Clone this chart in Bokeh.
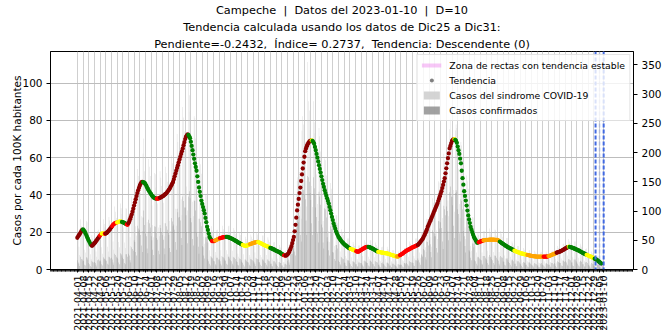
import numpy as np
import pandas as pd
from bokeh.plotting import figure
from bokeh.models import (Range1d, LinearAxis, FixedTicker, DatetimeTickFormatter,
                          ColumnDataSource, Span, Title, Legend, LegendItem)
from bokeh.embed import file_html
from bokeh.resources import INLINE

# ---------------- data ----------------
first_day = "2021-04-01"

# trend (cases per 100K), one value per day from 2021-04-01
trend = [
    17.0, 17.8, 18.5, 19.0, 19.8, 20.6, 21.2,
    21.5, 21.0, 20.3, 19.5, 18.5, 17.5, 16.5,
    15.5, 14.7, 13.8, 13.1, 12.7, 13.0, 13.6,
    14.1, 14.5, 15.2, 15.8, 16.4, 17.0, 17.6,
    18.2, 18.8, 19.3, 19.4, 19.3, 19.2, 19.2,
    19.3, 19.5, 20.0, 20.5, 21.0, 21.5, 22.1,
    22.7, 23.3, 24.0, 24.4, 24.7, 24.9, 25.1,
    25.2, 25.4, 25.6, 25.7, 25.8, 25.7, 25.5,
    25.4, 25.2, 25.0, 24.7, 24.4, 24.2, 24.0,
    24.8, 25.8, 27.0, 28.2, 29.5, 31.0, 32.6,
    34.3, 36.0, 37.7, 39.4, 41.0, 42.5, 43.8,
    45.0, 46.0, 46.7, 47.0, 46.9, 46.7, 46.5,
    45.8, 45.0, 44.0, 43.2, 42.4, 41.7, 41.0,
    40.4, 39.7, 39.2, 38.7, 38.4, 38.2, 38.0,
    38.0, 38.0, 38.1, 38.3, 38.5, 38.7, 39.0,
    39.2, 39.5, 39.9, 40.3, 40.6, 41.0, 41.6,
    42.2, 42.8, 43.5, 44.4, 45.2, 46.1, 47.0,
    48.5, 50.0, 51.5, 53.0, 54.5, 56.0, 57.5,
    59.0, 60.5, 62.0, 63.5, 65.0, 66.7, 68.3,
    70.0, 71.2, 72.0, 72.5, 72.2, 71.5, 70.5,
    68.5, 66.3, 64.0, 61.7, 59.4, 57.0, 55.0,
    53.0, 50.0, 47.0, 44.0, 41.7, 39.4, 37.0,
    35.2, 33.5, 31.8, 30.0, 27.7, 25.4, 23.0,
    21.2, 19.3, 17.5, 16.6, 15.9, 15.3, 15.2,
    15.2, 15.3, 15.5, 15.8, 16.0, 16.2, 16.4,
    16.6, 16.8, 16.9, 17.0, 17.2, 17.3, 17.4,
    17.4, 17.5, 17.5, 17.5, 17.3, 17.2, 17.0,
    16.8, 16.6, 16.4, 16.2, 15.9, 15.7, 15.4,
    15.2, 14.9, 14.6, 14.4, 14.1, 13.9, 13.6,
    13.4, 13.2, 13.0, 12.8, 12.7, 12.7, 12.8,
    13.0, 13.2, 13.4, 13.6, 13.8, 13.9, 14.1,
    14.2, 14.4, 14.5, 14.6, 14.7, 14.8, 14.7,
    14.5, 14.3, 14.1, 13.9, 13.6, 13.4, 13.2,
    13.0, 12.8, 12.6, 12.4, 12.3, 12.0, 11.8,
    11.6, 11.4, 11.2, 11.0, 10.8, 10.6, 10.3,
    10.1, 9.9, 9.7, 9.5, 9.3, 9.0, 8.7,
    8.4, 8.1, 7.8, 7.6, 7.5, 7.4, 7.6,
    8.0, 8.5, 9.3, 10.3, 11.3, 12.5, 14.1,
    15.8, 17.5, 20.5, 24.0, 27.8, 31.7, 34.8,
    37.9, 41.0, 44.0, 47.5, 51.0, 54.2, 57.4,
    60.5, 63.5, 65.0, 66.2, 67.2, 68.0, 68.6,
    69.0, 69.2, 69.3, 69.0, 68.3, 67.5, 65.8,
    64.0, 62.0, 60.0, 58.0, 56.0, 54.0, 52.0,
    50.0, 48.0, 46.0, 44.3, 42.6, 41.0, 39.6,
    38.2, 36.8, 35.4, 33.6, 31.8, 30.0, 28.2,
    26.5, 24.7, 23.3, 21.9, 20.5, 19.5, 18.5,
    17.5, 16.9, 16.3, 15.6, 15.0, 14.5, 14.1,
    13.6, 13.2, 12.9, 12.5, 12.2, 11.8, 11.5,
    11.3, 11.1, 10.9, 10.7, 10.6, 10.4, 10.2,
    10.0, 9.8, 9.6, 9.5, 9.6, 9.9, 10.2,
    10.5, 10.8, 11.0, 11.3, 11.5, 11.8, 12.0,
    12.1, 12.2, 12.2, 12.0, 11.8, 11.6, 11.4,
    11.2, 11.0, 10.7, 10.4, 10.2, 9.9, 9.7,
    9.5, 9.4, 9.3, 9.2, 9.1, 9.0, 9.0,
    8.9, 8.8, 8.8, 8.7, 8.6, 8.5, 8.3,
    8.2, 8.0, 7.9, 7.7, 7.6, 7.4, 7.3,
    7.1, 7.0, 7.0, 6.9, 7.1, 7.4, 7.7,
    8.0, 8.3, 8.5, 8.8, 9.2, 9.5, 9.8,
    10.1, 10.4, 10.6, 10.8, 11.1, 11.3, 11.5,
    11.8, 12.0, 12.2, 12.4, 12.6, 12.8, 13.0,
    13.2, 13.7, 14.2, 14.8, 15.4, 15.9, 16.5,
    17.4, 18.4, 19.4, 20.4, 21.4, 22.8, 23.8,
    24.8, 25.9, 26.9, 27.9, 29.0, 30.1, 31.2,
    32.2, 33.3, 34.3, 35.4, 36.7, 38.0, 39.3,
    40.6, 42.0, 43.7, 45.4, 47.2, 49.0, 51.6,
    54.3, 57.0, 59.7, 62.3, 65.0, 66.3, 67.7,
    69.0, 69.5, 69.8, 70.0, 69.6, 69.0, 68.0,
    66.0, 64.0, 62.0, 59.5, 57.0, 53.0, 49.0,
    45.5, 42.0, 39.5, 37.0, 34.3, 31.6, 29.0,
    26.9, 24.9, 22.8, 21.4, 20.0, 18.7, 17.5,
    16.7, 15.9, 15.1, 14.3, 14.5, 14.6, 14.8,
    15.0, 15.2, 15.3, 15.5, 15.6, 15.7, 15.8,
    15.8, 15.9, 15.9, 15.9, 16.0, 16.0, 16.0,
    16.0, 16.0, 16.0, 16.0, 15.9, 15.9, 15.9,
    15.9, 15.6, 15.3, 15.0, 14.6, 14.3, 14.0,
    13.7, 13.4, 13.1, 12.8, 12.5, 12.2, 12.0,
    11.7, 11.5, 11.3, 11.0, 10.8, 10.6, 10.3,
    10.1, 9.9, 9.7, 9.5, 9.3, 9.2, 9.0,
    8.8, 8.7, 8.6, 8.5, 8.4, 8.2, 8.1,
    8.0, 7.9, 7.8, 7.7, 7.6, 7.5, 7.4,
    7.3, 7.2, 7.2, 7.1, 7.0, 7.0, 6.9,
    6.9, 6.9, 6.9, 6.9, 6.9, 6.9, 6.9,
    6.9, 6.9, 6.9, 6.9, 6.9, 6.9, 7.0,
    7.2, 7.3, 7.5, 7.6, 7.8, 8.0, 8.2,
    8.4, 8.6, 8.8, 9.0, 9.2, 9.3, 9.5,
    9.6, 9.8, 10.0, 10.3, 10.5, 10.8, 11.0,
    11.3, 11.6, 11.8, 12.0, 12.2, 12.1, 12.0,
    11.9, 11.7, 11.6, 11.4, 11.2, 11.0, 10.8,
    10.6, 10.4, 10.2, 10.0, 9.7, 9.5, 9.2,
    9.0, 8.8, 8.6, 8.3, 8.1, 7.9, 7.7,
    7.5, 7.3, 7.1, 6.9, 6.7, 6.5, 6.2,
    6.0, 5.8, 5.5, 5.3, 5.0, 4.6, 4.3,
    3.9, 3.6, 3.2,
]

# trend classification as (class, number of consecutive days)
trend_class_runs = [
    ("DR", 7), ("G", 11), ("DR", 10), ("R", 2), ("Y", 4), ("R", 1), ("DR", 8),
    ("R", 6), ("Y", 6), ("G", 6), ("R", 2), ("DR", 18), ("G", 17), ("R", 4),
    ("DR", 35), ("G", 29), ("R", 4), ("O", 6), ("R", 8), ("G", 20), ("Y", 9),
    ("O", 10), ("Y", 15), ("G", 17), ("R", 2), ("DR", 32), ("Y", 1), ("G", 47),
    ("Y", 7), ("R", 15), ("G", 12), ("Y", 23), ("O", 4), ("R", 22), ("DR", 45),
    ("Y", 1), ("G", 29), ("R", 6), ("O", 20), ("G", 18), ("Y", 16), ("O", 20),
    ("R", 6), ("O", 10), ("DR", 15), ("Y", 1), ("G", 21), ("Y", 10), ("G", 9),
]
class_colors = {"DR": "#8b0000", "R": "#ff0000", "O": "#ffa500", "Y": "#ffff00", "G": "#008000"}

# daily cases (right axis), one value per day from 2021-04-01
syndrome_cases = [
    61, 52, 39, 25, 86, 74, 70,
    58, 60, 34, 29, 83, 81, 69,
    44, 36, 26, 18, 59, 53, 48,
    52, 45, 31, 22, 66, 68, 57,
    63, 55, 38, 27, 86, 78, 72,
    64, 62, 39, 31, 90, 84, 77,
    80, 68, 48, 34, 108, 99, 88,
    81, 76, 47, 38, 113, 105, 95,
    79, 72, 46, 37, 105, 104, 89,
    90, 79, 55, 40, 125, 115, 106,
    122, 115, 74, 58, 172, 160, 148,
    152, 132, 91, 66, 198, 224, 168,
    136, 127, 81, 63, 189, 176, 160,
    126, 110, 76, 55, 165, 163, 140,
    121, 113, 72, 57, 168, 157, 143,
    131, 114, 79, 57, 176, 165, 150,
    140, 130, 83, 66, 195, 182, 165,
    172, 150, 104, 75, 232, 218, 198,
    200, 186, 120, 93, 278, 260, 236,
    235, 206, 142, 101, 322, 298, 270,
    195, 180, 116, 91, 262, 259, 224,
    143, 124, 87, 61, 193, 180, 164,
    94, 88, 56, 44, 128, 127, 108,
    55, 46, 33, 23, 74, 67, 62,
    50, 47, 30, 24, 67, 68, 58,
    55, 48, 33, 23, 75, 69, 63,
    55, 51, 33, 26, 74, 75, 63,
    53, 46, 32, 22, 71, 67, 61,
    45, 42, 27, 22, 63, 59, 54,
    42, 36, 26, 17, 56, 52, 48,
    43, 41, 25, 21, 60, 56, 52,
    48, 41, 29, 20, 64, 60, 55,
    43, 41, 25, 21, 58, 58, 50,
    41, 35, 25, 17, 55, 51, 47,
    34, 33, 20, 17, 46, 47, 39,
    31, 26, 19, 13, 42, 38, 36,
    23, 23, 13, 12, 31, 32, 27,
    31, 34, 23, 16, 51, 54, 53,
    62, 68, 57, 43, 128, 152, 158,
    148, 167, 108, 87, 238, 262, 248,
    232, 218, 152, 108, 355, 288, 272,
    238, 217, 143, 107, 288, 252, 233,
    192, 163, 112, 83, 242, 228, 202,
    140, 130, 83, 66, 190, 187, 161,
    110, 95, 66, 47, 148, 138, 126,
    68, 65, 40, 33, 93, 93, 79,
    51, 44, 31, 22, 69, 64, 59,
    39, 37, 23, 19, 53, 53, 45,
    35, 30, 21, 14, 47, 43, 40,
    30, 29, 18, 15, 41, 41, 35,
    37, 31, 23, 15, 50, 46, 42,
    37, 35, 22, 18, 50, 50, 43,
    34, 29, 21, 14, 46, 42, 39,
    28, 27, 16, 14, 38, 39, 32,
    29, 24, 18, 12, 39, 35, 33,
    24, 23, 14, 12, 33, 33, 28,
    23, 19, 14, 9, 31, 28, 26,
    27, 26, 16, 14, 37, 37, 31,
    36, 30, 22, 15, 48, 44, 41,
    39, 37, 23, 19, 53, 53, 45,
    48, 41, 29, 20, 64, 60, 55,
    64, 60, 38, 30, 87, 86, 74,
    91, 78, 55, 39, 122, 114, 104,
    111, 104, 67, 52, 151, 149, 128,
    147, 129, 88, 64, 198, 187, 169,
    197, 181, 118, 91, 240, 259, 227,
    226, 200, 136, 99, 238, 248, 242,
    188, 173, 112, 88, 218, 212, 188,
    120, 104, 72, 52, 161, 151, 138,
    66, 62, 40, 32, 90, 89, 76,
    47, 41, 29, 20, 63, 59, 54,
    49, 46, 29, 23, 66, 66, 56,
    52, 45, 32, 22, 70, 64, 60,
    50, 47, 30, 24, 68, 67, 58,
    49, 42, 30, 21, 66, 61, 56,
    40, 38, 24, 19, 54, 54, 46,
    36, 31, 22, 15, 48, 45, 41,
    29, 28, 17, 15, 40, 40, 34,
    28, 23, 17, 11, 37, 34, 32,
    24, 23, 14, 12, 33, 33, 28,
    24, 20, 15, 9, 32, 29, 27,
    21, 21, 12, 11, 29, 30, 24,
    23, 19, 14, 9, 31, 28, 26,
    23, 23, 13, 12, 31, 32, 27,
    30, 25, 18, 12, 40, 37, 34,
    32, 31, 19, 16, 44, 44, 37,
    39, 33, 24, 16, 52, 48, 45,
    35, 33, 21, 17, 48, 48, 40,
    33, 28, 20, 13, 44, 41, 38,
    26, 25, 15, 13, 35, 36, 30,
    23, 19, 14, 9, 31, 28, 26,
    16, 16, 9, 9, 22, 23, 19,
    12, 10, 7, 5, 14, 10,
]

confirmed_cases = [
    16, 12, 10, 6, 22, 18, 17,
    14, 15, 8, 7, 21, 20, 17,
    11, 9, 6, 4, 15, 13, 12,
    13, 11, 8, 5, 16, 17, 14,
    16, 14, 9, 7, 21, 19, 18,
    16, 15, 10, 8, 22, 21, 19,
    20, 17, 12, 8, 27, 25, 22,
    20, 19, 12, 9, 28, 26, 24,
    20, 18, 11, 9, 26, 26, 22,
    27, 24, 16, 12, 38, 35, 32,
    50, 47, 30, 24, 75, 70, 65,
    68, 59, 41, 30, 89, 101, 76,
    61, 57, 36, 28, 85, 79, 72,
    57, 50, 34, 25, 74, 73, 63,
    54, 51, 32, 26, 76, 71, 64,
    59, 51, 36, 26, 79, 74, 68,
    63, 59, 37, 30, 88, 82, 74,
    77, 68, 47, 34, 104, 98, 89,
    90, 84, 54, 42, 125, 117, 106,
    106, 93, 64, 45, 125, 134, 122,
    88, 81, 52, 41, 118, 117, 101,
    64, 56, 39, 27, 87, 81, 74,
    40, 38, 24, 19, 55, 55, 46,
    17, 14, 10, 7, 22, 20, 19,
    15, 14, 9, 7, 20, 20, 17,
    17, 14, 10, 7, 22, 21, 19,
    16, 15, 10, 8, 22, 22, 19,
    16, 14, 10, 7, 21, 20, 18,
    14, 13, 8, 7, 19, 18, 16,
    13, 11, 8, 5, 17, 16, 14,
    13, 12, 8, 6, 18, 17, 16,
    14, 12, 9, 6, 19, 18, 17,
    13, 12, 8, 6, 17, 17, 15,
    12, 11, 8, 5, 17, 15, 14,
    10, 10, 6, 5, 14, 14, 12,
    9, 8, 6, 4, 13, 11, 11,
    7, 7, 4, 4, 9, 10, 8,
    15, 17, 12, 8, 26, 27, 27,
    34, 37, 31, 24, 70, 84, 87,
    81, 92, 59, 48, 131, 144, 136,
    128, 120, 84, 59, 160, 158, 150,
    131, 119, 79, 59, 158, 139, 128,
    106, 90, 62, 46, 133, 125, 111,
    77, 72, 46, 36, 105, 103, 89,
    55, 48, 33, 24, 74, 69, 63,
    30, 29, 18, 15, 42, 42, 36,
    15, 13, 9, 7, 21, 19, 18,
    12, 11, 7, 6, 16, 16, 14,
    11, 9, 6, 4, 14, 13, 12,
    9, 9, 5, 5, 12, 12, 11,
    11, 9, 7, 5, 15, 14, 13,
    11, 11, 7, 5, 15, 15, 13,
    10, 9, 6, 4, 14, 13, 12,
    8, 8, 5, 4, 11, 12, 10,
    9, 7, 5, 4, 12, 11, 10,
    7, 7, 4, 4, 10, 10, 8,
    7, 6, 4, 3, 9, 8, 8,
    8, 8, 5, 4, 11, 11, 9,
    11, 9, 7, 5, 14, 13, 12,
    12, 11, 7, 6, 16, 16, 14,
    19, 16, 12, 8, 26, 24, 22,
    35, 33, 21, 17, 48, 47, 41,
    50, 43, 30, 21, 67, 63, 57,
    61, 57, 37, 29, 83, 82, 70,
    81, 71, 48, 35, 109, 103, 93,
    108, 100, 65, 50, 132, 142, 125,
    124, 110, 75, 54, 131, 136, 133,
    103, 95, 62, 48, 120, 117, 103,
    66, 57, 40, 29, 89, 83, 76,
    33, 31, 20, 16, 45, 44, 38,
    16, 14, 10, 7, 22, 21, 19,
    17, 16, 10, 8, 23, 23, 20,
    18, 16, 11, 8, 25, 22, 21,
    18, 16, 11, 8, 24, 23, 20,
    17, 15, 10, 7, 23, 21, 20,
    14, 13, 8, 7, 19, 19, 16,
    13, 11, 8, 5, 17, 16, 14,
    10, 10, 6, 5, 14, 14, 12,
    10, 8, 6, 4, 13, 12, 11,
    8, 8, 5, 4, 12, 12, 10,
    8, 7, 5, 3, 11, 10, 9,
    7, 7, 4, 4, 10, 11, 8,
    8, 7, 5, 3, 11, 10, 9,
    8, 8, 5, 4, 11, 11, 9,
    11, 9, 6, 4, 14, 13, 12,
    11, 11, 7, 6, 15, 15, 13,
    14, 12, 8, 6, 18, 17, 16,
    12, 12, 7, 6, 17, 17, 14,
    12, 10, 7, 5, 15, 14, 13,
    9, 9, 5, 5, 12, 13, 11,
    8, 7, 5, 3, 11, 10, 9,
    6, 6, 3, 3, 8, 8, 7,
    4, 4, 2, 2, 5, 4,
]

window_dates = ["2022-12-31", "2023-01-10"]       # trend window markers
stable_zone_dates = ["2023-01-04", "2023-01-10"]  # stable-trend zone
stable_zone_values = [3.2, 2.4]
x_start, x_end = "2021-02-26 22:00", "2023-02-15 19:00"
last_tick_label_date = "2023-01-10"
left_ticks = [0, 20, 40, 60, 80, 100]
right_ticks = [0, 50, 100, 150, 200, 250, 300, 350]
left_max, right_max = 117, 373

NB = "\u00a0"
title_lines = [
    f"Campeche {NB}|{NB} Datos del 2023-01-10 {NB}|{NB} D=10",
    "Tendencia calculada usando los datos de Dic25 a Dic31:",
    f"Pendiente=-0.2432, {NB}\u00cdndice= 0.2737, {NB}Tendencia: Descendente (0)",
]
legend_labels = ["Zona de rectas con tendencia estable", "Tendencia",
                 "Casos del sindrome COVID-19", "Casos confirmados"]

# ---------------- build ----------------
FONT = "DejaVu Sans"
DAY_MS = 86400000


def ms(d):
    return pd.Timestamp(d).value // 10**6


trend_codes = []
for code, n in trend_class_runs:
    trend_codes += [code] * n
trend_codes = (trend_codes + ["G"] * len(trend))[:len(trend)]

trend_src = ColumnDataSource(dict(
    x=pd.date_range(first_day, periods=len(trend), freq="D"),
    y=trend,
    c=[class_colors[k] for k in trend_codes],
))
bar_src = ColumnDataSource(dict(
    x=pd.date_range(first_day, periods=len(syndrome_cases), freq="D"),
    syn=syndrome_cases,
    conf=confirmed_cases,
))

p = figure(width=664, height=333, x_axis_type="datetime",
           x_range=Range1d(ms(x_start), ms(x_end)), y_range=Range1d(0, left_max),
           output_backend="svg", toolbar_location=None,
           min_border_left=50, min_border_right=27, min_border_top=49, min_border_bottom=63,
           background_fill_color="white", border_fill_color="white")
p.extra_y_ranges = {"casos": Range1d(0, right_max)}

r_syn = p.vbar(x="x", top="syn", width=0.45 * DAY_MS, source=bar_src, y_range_name="casos",
               fill_color="#cdcdcd", fill_alpha=0.85, line_color=None)
r_conf = p.vbar(x="x", top="conf", width=0.45 * DAY_MS, source=bar_src, y_range_name="casos",
                fill_color="#8a8a8a", fill_alpha=0.8, line_color=None)

for d in window_dates:
    p.add_layout(Span(location=ms(d), dimension="height", line_color="#4169e1",
                      line_width=2, line_dash="4 2"))
p.add_layout(Span(location=ms("2023-01-05"), dimension="height", line_color="#4169e1",
                  line_alpha=0.2, line_width=2, line_dash="4 2"))

r_zone = p.line(x=pd.to_datetime(stable_zone_dates), y=stable_zone_values,
                line_color="violet", line_alpha=0.45, line_width=4)
p.scatter(x="x", y="y", source=trend_src, size=4.3, fill_color="c", line_color=None)
# legend-only marker for "Tendencia", placed outside the visible range
r_dot = p.scatter(x=[pd.Timestamp("2020-01-01")], y=[-50], size=3.5,
                  fill_color="grey", line_color=None)

# x axis
week_ticks = list(pd.date_range(first_day, "2023-01-05", freq="7D")) + [pd.Timestamp(last_tick_label_date)]
major = [int(t.value // 10**6) for t in week_ticks]
minor = [int(t.value // 10**6) for t in pd.date_range("2021-02-27", "2023-02-15", freq="D")]
xt = FixedTicker(ticks=major, minor_ticks=minor)
xa = p.xaxis[0]
xa.ticker = xt
fmt = "%Y-%m-%d"
xa.formatter = DatetimeTickFormatter(microseconds=fmt, milliseconds=fmt, seconds=fmt, minsec=fmt,
                                     minutes=fmt, hourmin=fmt, hours=fmt, days=fmt,
                                     months=fmt, years=fmt)
xa.major_label_orientation = np.pi / 2
xa.major_label_text_font = FONT
xa.major_label_text_font_size = "9.5px"
xa.major_label_standoff = 3
xa.major_tick_out = 3
xa.major_tick_in = 0
xa.minor_tick_out = 2
xa.minor_tick_in = 0
xa.minor_tick_line_color = "black"
xa.minor_tick_line_alpha = 0.8
p.xgrid.ticker = xt
p.xgrid.grid_line_color = "#cfcfcf"
p.xgrid.grid_line_width = 1

# left axis
ya = p.yaxis[0]
ya.ticker = FixedTicker(ticks=left_ticks)
ya.axis_label = "Casos por cada 100K habitantes"
ya.axis_label_text_font = FONT
ya.axis_label_text_font_style = "normal"
ya.axis_label_text_font_size = "10.5px"
ya.axis_label_text_color = "black"
ya.axis_label_standoff = -4
ya.major_label_text_font = FONT
ya.major_label_text_font_size = "10.5px"
ya.major_label_standoff = 4
ya.major_tick_out = 4
ya.major_tick_in = 0
ya.minor_tick_line_color = None
p.ygrid.grid_line_color = "#bdbdbd"
p.ygrid.grid_line_width = 1

# right axis
ra = LinearAxis(y_range_name="casos", ticker=FixedTicker(ticks=right_ticks))
ra.major_label_text_font = FONT
ra.major_label_text_font_size = "10.5px"
ra.major_label_standoff = 4
ra.major_tick_out = 4
ra.major_tick_in = 0
ra.minor_tick_line_color = None
p.add_layout(ra, "right")

for ax in (xa, ra):
    ax.axis_label = None
    ax.axis_label_standoff = 0

for ax in (xa, ya, ra):
    ax.axis_line_color = "black"
    ax.major_tick_line_color = "black"
    ax.major_label_text_color = "black"

p.outline_line_color = "black"
p.outline_line_alpha = 1

# titles (added bottom line first so the first line ends on top)
for line in reversed(title_lines):
    p.add_layout(Title(text=line, align="center", text_font=FONT, text_font_size="11.3px",
                       text_font_style="normal", text_color="black", standoff=2), "above")

legend = Legend(items=[
    LegendItem(label=legend_labels[0], renderers=[r_zone]),
    LegendItem(label=legend_labels[1], renderers=[r_dot]),
    LegendItem(label=legend_labels[2], renderers=[r_syn]),
    LegendItem(label=legend_labels[3], renderers=[r_conf]),
], location="top_right")
legend.margin = 3
legend.padding = 4
legend.spacing = 3
legend.label_text_font = FONT
legend.label_text_font_size = "9.3px"
legend.label_text_color = "black"
legend.label_height = 12
legend.glyph_height = 10
legend.glyph_width = 20
legend.label_standoff = 8
legend.border_line_color = "#cccccc"
legend.background_fill_alpha = 0.8
p.add_layout(legend)

open("out.html", "w").write(file_html(p, INLINE))
